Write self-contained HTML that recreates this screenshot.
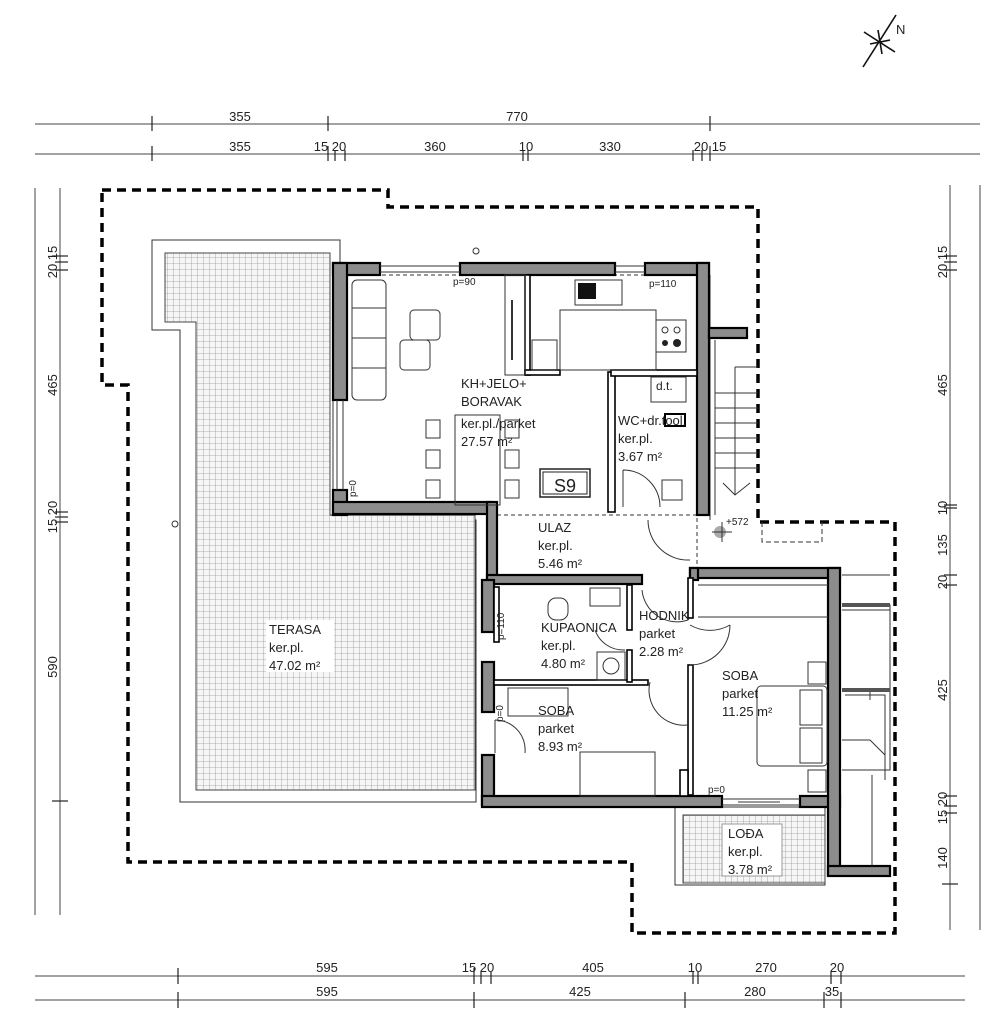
<!DOCTYPE html>
<html><head><meta charset="utf-8"><style>
html,body{margin:0;padding:0;background:#fff}
svg{display:block}
text{font-family:"Liberation Sans",sans-serif;fill:#222}
.d{stroke:#444;stroke-width:1;fill:none}
.w{fill:#8c8c8c;stroke:#000;stroke-width:2.2}
.l{stroke:#333;stroke-width:1;fill:none}
.t{stroke:#222;stroke-width:1.2}
</style></head><body>
<svg width="1006" height="1024" viewBox="0 0 1006 1024">
<defs>
<pattern id="tile" width="6" height="6" patternUnits="userSpaceOnUse">
<rect width="6" height="6" fill="#f6f6f6"/><path d="M6 0V6M0 6H6" stroke="#999" stroke-width="0.8"/>
</pattern>
</defs>
<!-- north -->
<g stroke="#111" stroke-width="1.6">
<line x1="863" y1="67" x2="896" y2="15"/>
<line x1="864" y1="32" x2="895" y2="52"/>
<line x1="870" y1="44" x2="890" y2="40"/>
<line x1="878" y1="30" x2="882" y2="54"/>
</g>
<text x="896" y="34" font-size="13">N</text>

<!-- top dims -->
<line class="d" x1="35" y1="124" x2="980" y2="124"/>
<line class="d" x1="35" y1="154" x2="980" y2="154"/>
<g class="t">
<line x1="152" y1="116" x2="152" y2="131"/><line x1="328" y1="116" x2="328" y2="131"/><line x1="710" y1="116" x2="710" y2="131"/>
<line x1="152" y1="146" x2="152" y2="161"/><line x1="328" y1="146" x2="328" y2="161"/><line x1="335" y1="150" x2="335" y2="161"/><line x1="345" y1="150" x2="345" y2="161"/>
<line x1="523" y1="150" x2="523" y2="161"/><line x1="528" y1="150" x2="528" y2="161"/>
<line x1="693" y1="150" x2="693" y2="161"/><line x1="702" y1="150" x2="702" y2="161"/><line x1="710" y1="146" x2="710" y2="161"/>
</g>
<g font-size="13" text-anchor="middle">
<text x="240" y="121">355</text><text x="517" y="121">770</text>
<text x="240" y="151">355</text><text x="330" y="151">15 20</text><text x="435" y="151">360</text><text x="526" y="151">10</text><text x="610" y="151">330</text><text x="710" y="151">20 15</text>
</g>
<!-- bottom dims -->
<line class="d" x1="35" y1="976" x2="965" y2="976"/>
<line class="d" x1="35" y1="1000" x2="965" y2="1000"/>
<g class="t">
<line x1="178" y1="968" x2="178" y2="984"/><line x1="474" y1="968" x2="474" y2="984"/><line x1="481" y1="972" x2="481" y2="984"/><line x1="491" y1="972" x2="491" y2="984"/>
<line x1="693" y1="972" x2="693" y2="984"/><line x1="698" y1="972" x2="698" y2="984"/><line x1="831" y1="972" x2="831" y2="984"/><line x1="841" y1="972" x2="841" y2="984"/>
<line x1="178" y1="992" x2="178" y2="1008"/><line x1="474" y1="992" x2="474" y2="1008"/><line x1="685" y1="992" x2="685" y2="1008"/><line x1="824" y1="992" x2="824" y2="1008"/><line x1="841" y1="992" x2="841" y2="1008"/>
</g>
<g font-size="13" text-anchor="middle">
<text x="327" y="972">595</text><text x="478" y="972">15 20</text><text x="593" y="972">405</text><text x="695" y="972">10</text><text x="766" y="972">270</text><text x="837" y="972">20</text>
<text x="327" y="996">595</text><text x="580" y="996">425</text><text x="755" y="996">280</text><text x="832" y="996">35</text>
</g>
<!-- left dims -->
<line class="d" x1="35" y1="188" x2="35" y2="915"/>
<line class="d" x1="60" y1="188" x2="60" y2="915"/>
<g class="t">
<line x1="52" y1="256" x2="68" y2="256"/><line x1="55" y1="262" x2="68" y2="262"/><line x1="55" y1="270" x2="68" y2="270"/>
<line x1="55" y1="512" x2="68" y2="512"/><line x1="55" y1="517" x2="68" y2="517"/><line x1="55" y1="522" x2="68" y2="522"/>
<line x1="52" y1="801" x2="68" y2="801"/>
</g>
<g font-size="13" text-anchor="middle">
<text transform="translate(57,262) rotate(-90)">20 15</text>
<text transform="translate(57,385) rotate(-90)">465</text>
<text transform="translate(57,517) rotate(-90)">15 20</text>
<text transform="translate(57,667) rotate(-90)">590</text>
</g>
<!-- right dims -->
<line class="d" x1="950" y1="185" x2="950" y2="930"/>
<line class="d" x1="980" y1="185" x2="980" y2="930"/>
<g class="t">
<line x1="944" y1="256" x2="957" y2="256"/><line x1="944" y1="262" x2="957" y2="262"/><line x1="944" y1="270" x2="957" y2="270"/>
<line x1="944" y1="505" x2="957" y2="505"/><line x1="944" y1="508" x2="957" y2="508"/>
<line x1="944" y1="575" x2="957" y2="575"/><line x1="944" y1="585" x2="957" y2="585"/>
<line x1="944" y1="796" x2="957" y2="796"/><line x1="944" y1="806" x2="957" y2="806"/><line x1="944" y1="813" x2="957" y2="813"/>
<line x1="942" y1="884" x2="958" y2="884"/>
</g>
<g font-size="13" text-anchor="middle">
<text transform="translate(947,262) rotate(-90)">20 15</text>
<text transform="translate(947,385) rotate(-90)">465</text>
<text transform="translate(947,508) rotate(-90)">10</text>
<text transform="translate(947,545) rotate(-90)">135</text>
<text transform="translate(947,582) rotate(-90)">20</text>
<text transform="translate(947,690) rotate(-90)">425</text>
<text transform="translate(947,808) rotate(-90)">15 20</text>
<text transform="translate(947,858) rotate(-90)">140</text>
</g>

<!-- dashed outline -->
<path d="M102 190H388V207H758V522H895V933H632V862H128V385H102Z" fill="none" stroke="#000" stroke-width="3.5" stroke-dasharray="9,6"/>
<path d="M762 522V542H822V522" fill="none" stroke="#333" stroke-dasharray="5,3"/>

<!-- terrace -->
<path d="M152 240H340V263H333V520H476V802H180V330H152Z" class="l"/>
<path d="M165 253H330V515H475V790H196V322H165Z" fill="url(#tile)" stroke="#444"/>
<rect x="266" y="620" width="68" height="52" fill="#fff"/>
<circle cx="175" cy="524" r="3" class="l"/>
<circle cx="476" cy="251" r="3" class="l"/>

<!-- loggia -->
<rect x="675" y="807" width="150" height="78" class="l"/>
<rect x="683" y="815" width="142" height="68" fill="url(#tile)" stroke="#444"/>
<rect x="722" y="824" width="60" height="52" fill="#fff" stroke="#999"/>

<!-- rooms interior lines -->
<path d="M347 275H697V502" class="l" stroke-dasharray="4,3"/>
<path d="M497 515H697V575" class="l" stroke-dasharray="4,3"/>
<line x1="710" y1="275" x2="710" y2="330" class="l"/>
<line x1="710" y1="338" x2="710" y2="520" class="l"/>
<!-- stairs -->
<g class="l">
<path d="M715 340V515M735 367H758M735 367V495"/>
<path d="M715 393H758M715 408H758M715 423H758M715 438H758M715 453H758M715 468H758"/>
<path d="M723 483L735 495L750 483"/>
</g>
<!-- right side -->
<g class="l">
<path d="M842 605H890V770H842M842 690H890M870 690V700"/>
<path d="M842 605H890M842 610H890"/>
<path d="M842 690H890M845 695H885V780"/>
<path d="M842 740H870L885 755"/>
<line x1="872" y1="775" x2="872" y2="870"/>
<line x1="842" y1="575" x2="890" y2="575"/>
</g>
<rect x="842" y="603" width="48" height="4" fill="#555"/>
<rect x="842" y="688" width="48" height="4" fill="#555"/>

<!-- walls -->
<g class="w">
<rect x="333" y="263" width="47" height="12"/>
<rect x="460" y="263" width="155" height="12"/>
<rect x="645" y="263" width="64" height="12"/>
<rect x="697" y="263" width="12" height="252"/>
<rect x="709" y="328" width="38" height="10"/>
<rect x="333" y="263" width="14" height="137"/>
<rect x="333" y="490" width="14" height="25"/>
<rect x="333" y="502" width="158" height="12"/>
<rect x="487" y="502" width="10" height="80"/>
<rect x="487" y="575" width="155" height="9"/>
<rect x="482" y="580" width="12" height="52"/>
<rect x="482" y="662" width="12" height="50"/>
<rect x="482" y="755" width="12" height="50"/>
<rect x="482" y="796" width="240" height="11"/>
<rect x="800" y="796" width="40" height="11"/>
<rect x="690" y="568" width="150" height="10"/>
<rect x="828" y="568" width="12" height="307"/>
<rect x="828" y="866" width="62" height="10"/>
<rect x="690" y="568" width="8" height="12"/>
</g>
<!-- thin walls -->
<g fill="#fff" stroke="#000" stroke-width="1.6">
<rect x="608" y="372" width="7" height="140"/>
<rect x="611" y="370" width="86" height="6"/>
<rect x="525" y="275" width="5" height="100"/>
<rect x="525" y="370" width="35" height="5"/>
<rect x="494" y="680" width="154" height="5"/>
<rect x="494" y="587" width="5" height="55"/>
<rect x="627" y="585" width="5" height="45"/>
<rect x="627" y="650" width="5" height="32"/>
<rect x="688" y="578" width="5" height="40"/>
<rect x="688" y="665" width="5" height="130"/>
<rect x="680" y="770" width="8" height="26"/>
</g>

<!-- windows -->
<g class="l">
<line x1="380" y1="266" x2="460" y2="266"/><line x1="380" y1="272" x2="460" y2="272"/>
<line x1="615" y1="266" x2="645" y2="266"/><line x1="615" y1="272" x2="645" y2="272"/>
<line x1="337" y1="400" x2="337" y2="490"/><line x1="343" y1="400" x2="343" y2="490"/>
<line x1="722" y1="799" x2="800" y2="799"/><line x1="722" y1="805" x2="800" y2="805"/>
<line x1="738" y1="802" x2="780" y2="802"/>
</g>

<!-- furniture living -->
<g class="l">
<rect x="352" y="280" width="34" height="120" rx="5"/>
<line x1="352" y1="308" x2="386" y2="308"/><line x1="352" y1="338" x2="386" y2="338"/><line x1="352" y1="368" x2="386" y2="368"/>
<rect x="410" y="310" width="30" height="30" rx="4"/>
<rect x="400" y="340" width="30" height="30" rx="4"/>
<rect x="505" y="275" width="20" height="100"/>
<line x1="512" y1="300" x2="512" y2="360" stroke-width="2"/>
<rect x="455" y="415" width="45" height="90"/>
<path d="M426 420h14v18h-14zM426 450h14v18h-14zM426 480h14v18h-14zM505 420h14v18h-14zM505 450h14v18h-14zM505 480h14v18h-14z"/>
<rect x="532" y="340" width="25" height="30"/>
<path d="M560 310H656V370H560Z"/>
<rect x="575" y="280" width="47" height="25"/>
<rect x="656" y="320" width="30" height="32"/>
<circle cx="665" cy="330" r="3"/><circle cx="677" cy="330" r="3"/>
<rect x="651" y="377" width="35" height="25"/>
<rect x="662" y="480" width="20" height="20"/>
<path d="M623 470A37 37 0 0 1 660 507M623 470V507"/>
<path d="M648 520A40 40 0 0 0 690 560"/>
<path d="M690 625A40 40 0 0 0 730 625M690 665A40 40 0 0 0 730 625"/>
<path d="M650 682A35 35 0 0 0 688 725"/>
<path d="M642 590A35 35 0 0 0 688 620"/>
<rect x="548" y="598" width="20" height="22" rx="8"/>
<rect x="590" y="588" width="30" height="18"/>
<rect x="597" y="652" width="28" height="28"/><circle cx="611" cy="666" r="8"/>
<path d="M595 630A30 30 0 0 0 625 650"/>
<rect x="580" y="752" width="75" height="44"/>
<path d="M495 720A30 30 0 0 1 525 753M495 720V753"/>
<rect x="508" y="688" width="60" height="28"/>
<rect x="757" y="686" width="70" height="80" rx="4"/>
<rect x="800" y="690" width="22" height="35"/><rect x="800" y="728" width="22" height="35"/>
<rect x="808" y="662" width="18" height="22"/><rect x="808" y="770" width="18" height="22"/>
<line x1="698" y1="617" x2="828" y2="617"/>
<line x1="698" y1="585" x2="828" y2="585"/>
</g>
<circle cx="720" cy="532" r="6" fill="#aaa"/>
<line x1="712" y1="532" x2="732" y2="532" stroke="#333"/><line x1="722" y1="522" x2="722" y2="542" stroke="#333"/>
<rect x="578" y="283" width="18" height="16" fill="#111"/>
<circle cx="665" cy="343" r="3" fill="#222"/><circle cx="677" cy="343" r="4" fill="#222"/>
<rect x="665" y="414" width="20" height="12" fill="#fff" stroke="#000" stroke-width="2"/>

<!-- S9 -->
<rect x="540" y="469" width="50" height="28" fill="#fff" stroke="#222" stroke-width="1.5"/>
<rect x="543" y="472" width="44" height="22" fill="none" stroke="#222"/>
<text x="565" y="492" font-size="18" text-anchor="middle">S9</text>

<!-- labels -->
<g font-size="13">
<text x="461" y="388">KH+JELO+</text><text x="461" y="406">BORAVAK</text>
<text x="461" y="428">ker.pl./parket</text><text x="461" y="446">27.57 m²</text>
<text x="618" y="425">WC+dr.tool.</text><text x="618" y="443">ker.pl.</text><text x="618" y="461">3.67 m²</text>
<text x="538" y="532">ULAZ</text><text x="538" y="550">ker.pl.</text><text x="538" y="568">5.46 m²</text>
<text x="541" y="632">KUPAONICA</text><text x="541" y="650">ker.pl.</text><text x="541" y="668">4.80 m²</text>
<text x="639" y="620">HODNIK</text><text x="639" y="638">parket</text><text x="639" y="656">2.28 m²</text>
<text x="538" y="715">SOBA</text><text x="538" y="733">parket</text><text x="538" y="751">8.93 m²</text>
<text x="722" y="680">SOBA</text><text x="722" y="698">parket</text><text x="722" y="716">11.25 m²</text>
<text x="269" y="634">TERASA</text><text x="269" y="652">ker.pl.</text><text x="269" y="670">47.02 m²</text>
<text x="728" y="838">LOĐA</text><text x="728" y="856">ker.pl.</text><text x="728" y="874">3.78 m²</text>
<text x="656" y="390" font-size="12">d.t.</text>
</g>
<g font-size="10">
<text x="453" y="285">p=90</text><text x="649" y="287">p=110</text>
<text x="708" y="793">p=0</text><text x="726" y="525">+572</text>
<text transform="translate(356,497) rotate(-90)">p=0</text>
<text transform="translate(504,640) rotate(-90)">p=110</text>
<text transform="translate(503,722) rotate(-90)">p=0</text>
</g>
</svg>
</body></html>
